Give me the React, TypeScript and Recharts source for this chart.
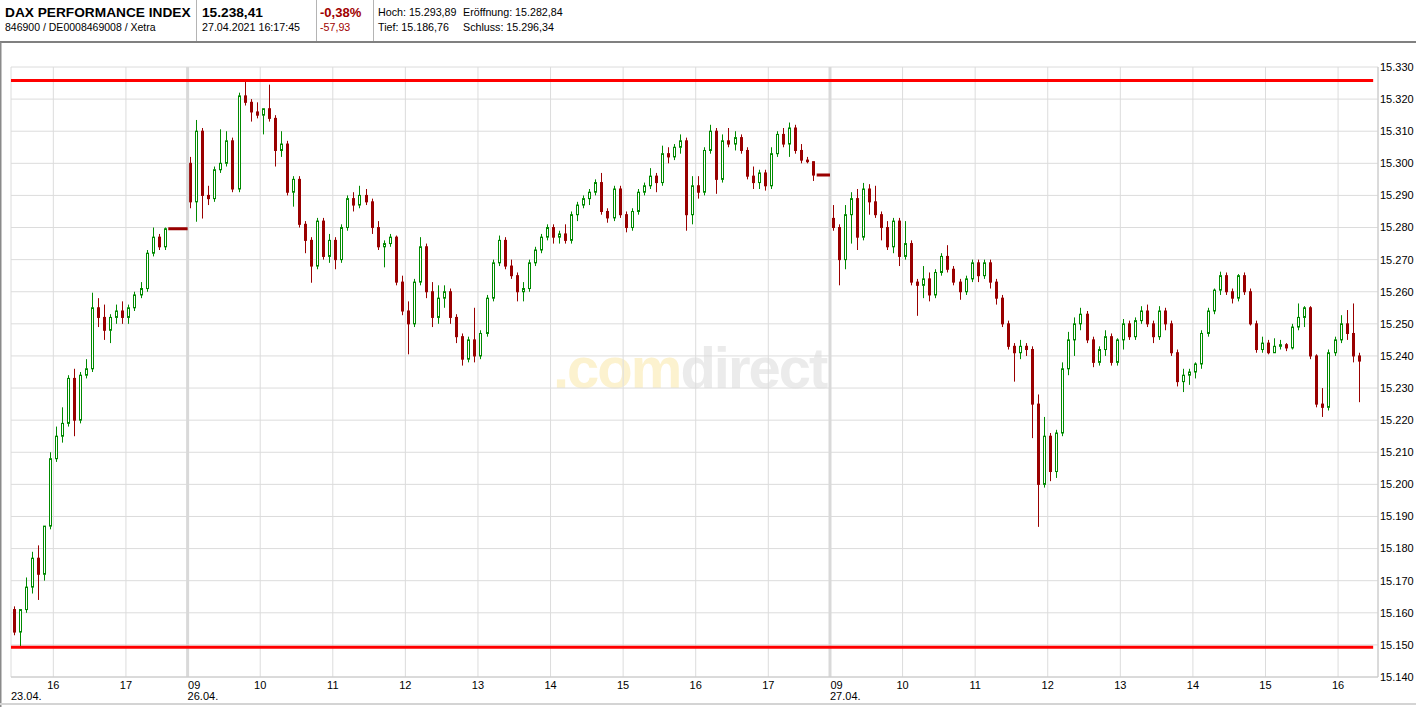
import React from "react";
import { ComposedChart, Bar, Line, XAxis, YAxis, CartesianGrid, ReferenceLine } from "recharts";

// ---------- data (5-minute candles) ----------
const DAY_DATES = ["23.04.", "26.04.", "27.04."];
const DAY_FIRST_CANDLE = ["15:25", "09:00", "09:00"];

const d0Open = [15161, 15154, 15161, 15168, 15177, 15172, 15187, 15208, 15215, 15219, 15233, 15220, 15234, 15236, 15255, 15252, 15248, 15252, 15254, 15252, 15255, 15259, 15261, 15272, 15277, 15274];
const d0High = [15162, 15161, 15171, 15179, 15181, 15183, 15210, 15218, 15224, 15234, 15236, 15235, 15239, 15259.7, 15258, 15256, 15253, 15256, 15257, 15256, 15260, 15263, 15273, 15280, 15278, 15280];
const d0Low = [15153, 15149.3, 15160, 15166, 15164, 15170, 15186, 15207, 15213, 15218, 15215, 15219, 15233, 15235, 15249, 15245, 15244, 15250, 15250, 15250, 15254, 15258, 15260, 15271, 15273, 15273];
const d0Close = [15154, 15161, 15168, 15177, 15172, 15187, 15208, 15215, 15219, 15233, 15220, 15234, 15236, 15255, 15252, 15248, 15252, 15254, 15252, 15255, 15259, 15261, 15272, 15277, 15274, 15279.62];

const d1Open = [
  15300, 15288, 15310, 15290, 15289, 15298, 15300, 15307, 15292, 15321, 15319, 15316,
  15315, 15317, 15314, 15304, 15306, 15291, 15295, 15281, 15276, 15268, 15282, 15271,
  15276, 15270, 15280, 15289, 15287, 15290, 15288, 15280, 15274, 15275, 15277, 15263,
  15254, 15250, 15263, 15274, 15260, 15252, 15258, 15260, 15252, 15246, 15239, 15245,
  15240, 15247, 15258, 15269, 15276, 15268, 15265, 15260, 15261, 15269, 15273, 15277,
  15280, 15277, 15278, 15276, 15284, 15287, 15289, 15291, 15294, 15285, 15283, 15292,
  15284, 15280, 15285, 15291, 15293, 15296, 15294, 15303, 15302, 15305, 15307, 15284,
  15293, 15291, 15304, 15310, 15295, 15307, 15306, 15308, 15304, 15296, 15294, 15297,
  15293, 15303, 15309, 15306, 15311, 15304, 15301, 15300.5,
];
const d1High = [
  15302, 15313.5, 15311, 15293, 15299, 15310.6, 15310, 15308, 15322, 15325.8, 15320, 15319,
  15317, 15324.5, 15315, 15310, 15307, 15296, 15296, 15282, 15277, 15283, 15283, 15278,
  15277, 15281, 15290, 15291, 15293, 15292, 15289, 15282, 15276, 15278, 15277.5, 15265,
  15257, 15264, 15277, 15275, 15263, 15262, 15262, 15261, 15253, 15247, 15246, 15255,
  15248, 15259, 15270, 15277.5, 15277, 15270, 15266, 15263, 15270, 15274, 15278, 15281,
  15281, 15279, 15281, 15285, 15288, 15290, 15292, 15295, 15297, 15286, 15293, 15293,
  15285, 15286, 15292, 15294, 15298.5, 15297, 15305.5, 15305, 15306, 15309, 15308, 15296,
  15296, 15305, 15312, 15311, 15309, 15311, 15310, 15309, 15305, 15299, 15298, 15298,
  15305, 15310, 15311, 15312.7, 15312, 15306, 15302, 15300.5,
];
const d1Low = [
  15286, 15281.8, 15282.8, 15287, 15288, 15297, 15299, 15291, 15291, 15318, 15313, 15314,
  15309, 15313, 15299, 15302, 15290, 15286.5, 15280, 15272, 15262.8, 15267, 15270, 15269,
  15267, 15269, 15279, 15285, 15286, 15287, 15278, 15273, 15267.6, 15274, 15262, 15252.7,
  15240.5, 15249, 15262, 15258, 15249, 15250, 15255, 15250, 15244, 15237, 15238, 15238,
  15239, 15246, 15257, 15268, 15267, 15264, 15257, 15257, 15260, 15268, 15272, 15276,
  15275, 15275, 15275, 15275, 15282, 15286, 15287, 15290, 15284, 15281.5, 15282, 15283,
  15278.5, 15279, 15284, 15290, 15292, 15291, 15293, 15300, 15301, 15303, 15279, 15281,
  15289, 15290, 15303, 15290.5, 15294, 15305, 15304, 15303, 15295, 15292, 15292, 15291.5,
  15292, 15302, 15305, 15302, 15303, 15300, 15300, 15294.5,
];
const d1Close = [
  15288, 15310, 15290, 15289, 15298, 15300, 15307, 15292, 15321, 15319, 15316, 15315,
  15317, 15314, 15304, 15306, 15291, 15295, 15281, 15276, 15268, 15282, 15271, 15276,
  15270, 15280, 15289, 15287, 15290, 15288, 15280, 15274, 15275, 15277, 15263, 15254,
  15250, 15263, 15274, 15260, 15252, 15258, 15260, 15252, 15246, 15239, 15245, 15240,
  15247, 15258, 15269, 15276, 15268, 15265, 15260, 15261, 15269, 15273, 15277, 15280,
  15277, 15278, 15276, 15284, 15287, 15289, 15291, 15294, 15285, 15283, 15292, 15284,
  15280, 15285, 15291, 15293, 15296, 15294, 15303, 15302, 15305, 15307, 15284, 15293,
  15291, 15304, 15310, 15295, 15307, 15306, 15308, 15304, 15296, 15294, 15297, 15293,
  15303, 15309, 15306, 15311, 15304, 15301, 15300.5, 15296.34,
];

const d2Open = [
  15282.84, 15280, 15270, 15284, 15289, 15277, 15292, 15288, 15284, 15280, 15274, 15282,
  15271, 15275, 15263, 15262, 15264, 15259, 15266, 15271, 15267, 15263, 15260, 15264,
  15269, 15265, 15269, 15263, 15258, 15250, 15243, 15241, 15243, 15242, 15225, 15200,
  15215, 15204, 15216, 15236, 15245, 15250, 15253, 15245, 15238, 15242, 15246, 15238,
  15245, 15250, 15246, 15251, 15254, 15250, 15246, 15254, 15250, 15241, 15232, 15234,
  15235, 15237.5, 15247, 15254, 15260.5, 15265, 15260, 15258, 15265, 15260, 15250, 15242,
  15244, 15241, 15243, 15243.5, 15242.5, 15249, 15252, 15255, 15240, 15225, 15224, 15241,
  15245, 15250, 15247, 15240,
];
const d2High = [
  15287, 15281, 15287, 15291, 15292, 15293.89, 15293.5, 15293, 15285, 15282, 15283, 15283,
  15282, 15276, 15264, 15268, 15266, 15267, 15272, 15274.5, 15268, 15264, 15265, 15270,
  15270, 15270, 15270, 15264, 15259, 15251, 15244, 15245, 15244, 15243, 15228, 15221,
  15216, 15217, 15238, 15247.5, 15252, 15255, 15254, 15246, 15243, 15248, 15247, 15245.5,
  15251.5, 15251, 15252, 15255.5, 15256, 15251, 15255.5, 15255, 15251, 15242, 15236, 15236,
  15238, 15248, 15255, 15261, 15266.25, 15266, 15261, 15265.5, 15266, 15261, 15251, 15246,
  15245, 15245.5, 15245, 15244, 15250, 15256.35, 15255.5, 15255.5, 15240.5, 15230, 15242, 15246,
  15252.7, 15254.3, 15256.35, 15241,
];
const d2Low = [
  15279, 15262, 15267, 15275, 15273, 15276, 15284, 15283, 15276, 15273, 15272, 15268,
  15270, 15262, 15252.5, 15258, 15257, 15258, 15265, 15266, 15262, 15257.5, 15259, 15263,
  15263, 15264, 15261, 15256, 15249, 15242, 15232, 15239, 15240, 15214.4, 15186.76, 15199,
  15201, 15202, 15215, 15234, 15240, 15248, 15244, 15236.5, 15237, 15240, 15237, 15237,
  15242, 15245, 15245, 15250, 15249, 15244, 15245, 15248, 15240, 15230.5, 15228.75, 15231,
  15233, 15236, 15246, 15253, 15259, 15259, 15256.35, 15257, 15259, 15249.5, 15241, 15241,
  15240.5, 15241, 15242, 15241.5, 15242, 15248, 15249, 15239, 15224, 15221, 15223, 15240,
  15244, 15245, 15238, 15225.6,
];
const d2Close = [
  15280, 15270, 15284, 15289, 15277, 15292, 15288, 15284, 15280, 15274, 15282, 15271,
  15275, 15263, 15262, 15264, 15259, 15266, 15271, 15267, 15263, 15260, 15264, 15269,
  15265, 15269, 15263, 15258, 15250, 15243, 15241, 15243, 15242, 15225, 15200, 15215,
  15204, 15216, 15236, 15245, 15250, 15253, 15245, 15238, 15242, 15246, 15238, 15245,
  15250, 15246, 15251, 15254, 15250, 15246, 15254, 15250, 15241, 15232, 15234, 15235,
  15237.5, 15247, 15254, 15260.5, 15265, 15260, 15258, 15265, 15260, 15250, 15242, 15244,
  15241, 15243, 15243.5, 15242.5, 15249, 15252, 15255, 15240, 15225, 15224, 15241, 15245,
  15250, 15247, 15240, 15238.41,
];

// after-close flat segments (start time of flat, per day) — days 0 and 1
const FLAT_FROM = ["17:35", "17:40"];

const Y_TICKS = [15140, 15150, 15160, 15170, 15180, 15190, 15200, 15210, 15220, 15230, 15240, 15250, 15260, 15270, 15280, 15290, 15300, 15310, 15320, 15330];
const DAY_TICK_HOURS = [[16, 17], [9, 10, 11, 12, 13, 14, 15, 16, 17], [9, 10, 11, 12, 13, 14, 15, 16]];

// ---------- axis time model ----------
const SESSION_AXIS_MIN = 531; // 09:00 .. 17:51 on the axis
const VIEW_START_MIN = 385; // first day view starts 15:25
const VIEW_END = 1130;
const toMin = (s: string) => {
  const [h, m] = s.split(":").map(Number);
  return (h - 9) * 60 + m;
};
const dayStart = (d: number) => d * SESSION_AXIS_MIN - VIEW_START_MIN;

const DAYS = [
  { o: d0Open, h: d0High, l: d0Low, c: d0Close },
  { o: d1Open, h: d1High, l: d1Low, c: d1Close },
  { o: d2Open, h: d2High, l: d2Low, c: d2Close },
];

type Row = { t: number; o?: number; h?: number; l?: number; c?: number; flat?: number };
const rows: Row[] = [];
DAYS.forEach((d, di) => {
  const first = toMin(DAY_FIRST_CANDLE[di]);
  d.o.forEach((_, i) => {
    rows.push({ t: dayStart(di) + first + i * 5 + 2.5, o: d.o[i], h: d.h[i], l: d.l[i], c: d.c[i] });
  });
  if (di < FLAT_FROM.length) {
    const last = d.c[d.c.length - 1];
    rows.push({ t: dayStart(di) + toMin(FLAT_FROM[di]), flat: last });
    rows.push({ t: dayStart(di + 1), flat: last });
  }
});

const allHigh = Math.max(...DAYS.flatMap((d) => d.h));
const allLow = Math.min(...DAYS.flatMap((d) => d.l));

type XT = { t: number; hour?: string; date?: string; start?: boolean };
const xTicks: XT[] = [{ t: 0, date: DAY_DATES[0], start: true }];
DAY_TICK_HOURS.forEach((hours, di) => {
  hours.forEach((h) => {
    const isStart = h === 9;
    xTicks.push({
      t: dayStart(di) + (h - 9) * 60,
      hour: String(h).padStart(2, "0"),
      date: isStart ? DAY_DATES[di] : undefined,
      start: isStart,
    });
  });
});
const xTickMap = new Map(xTicks.map((x) => [x.t, x]));
const separators = [dayStart(1), dayStart(2)];

// ---------- styling ----------
const FONT = "'Liberation Sans', Arial, Helvetica, sans-serif";
const UP = "#008a00";
const DOWN = "#990000";
const fmt = (v: number) => `${Math.floor(v / 1000)}.${String(Math.round(v % 1000)).padStart(3, "0")}`;

function Candle(props: any) {
  const { x, y, width, height, payload } = props;
  if (!payload || payload.h == null || !isFinite(y) || !isFinite(height)) return null;
  const { o, h, l, c } = payload;
  const y0 = Math.min(y, y + height);
  const y1 = Math.max(y, y + height);
  const span = h - l;
  const py = (v: number) => (span > 0 ? y0 + ((h - v) / span) * (y1 - y0) : y0);
  const up = c >= o;
  const col = up ? UP : DOWN;
  const left = Math.round(x) + 0.5;
  const w = Math.max(1, Math.round(width) - 1);
  const cx = left + Math.floor(w / 2);
  let bt = py(Math.max(o, c));
  let bb = py(Math.min(o, c));
  if (bb - bt < 1) bb = bt + 1;
  return (
    <g>
      <line x1={cx} x2={cx} y1={y0} y2={y1} stroke={col} strokeWidth={1} />
      <rect x={left} y={bt} width={w} height={bb - bt} fill={up ? "#ffffff" : col} stroke={col} strokeWidth={1} />
    </g>
  );
}

function XTick(props: any) {
  const { x, y, payload } = props;
  const info = xTickMap.get(payload.value);
  if (!info) return null;
  return (
    <g>
      {info.hour && (
        <text x={info.start ? x + 0.5 : x} y={y + 12} textAnchor={info.start ? "start" : "middle"} fontSize={11} fill="#000" fontFamily={FONT}>
          {info.hour}
        </text>
      )}
      {info.date && (
        <text x={x} y={y + 23} textAnchor="start" fontSize={11} fill="#000" fontFamily={FONT}>
          {info.date}
        </text>
      )}
    </g>
  );
}

function Header() {
  const t = { fontFamily: FONT, fill: "#000" } as const;
  const big = 13.7;
  const small = 10.7;
  return (
    <svg width={1416} height={44} style={{ position: "absolute", left: 0, top: 0 }}>
      <text x={5} y={16.5} fontSize={big} fontWeight="bold" {...t}>DAX PERFORMANCE INDEX</text>
      <text x={5} y={30.5} fontSize={10.5} {...t}>846900 / DE0008469008 / Xetra</text>
      <line x1={196.5} x2={196.5} y1={0} y2={41} stroke="#b4b4b4" />
      <text x={202} y={16.5} fontSize={big} fontWeight="bold" {...t}>15.238,41</text>
      <text x={202} y={30.5} fontSize={small} {...t}>27.04.2021 16:17:45</text>
      <line x1={316.5} x2={316.5} y1={0} y2={41} stroke="#b4b4b4" />
      <text x={320} y={16.5} fontSize={13} fontWeight="bold" fontFamily={FONT} fill="#a00000">-0,38%</text>
      <text x={320} y={30.5} fontSize={small} fontFamily={FONT} fill="#a00000">-57,93</text>
      <line x1={373.5} x2={373.5} y1={0} y2={41} stroke="#b4b4b4" />
      <text x={378} y={16} fontSize={small} {...t}>Hoch: 15.293,89</text>
      <text x={463} y={16} fontSize={small} {...t}>Eröffnung: 15.282,84</text>
      <text x={378} y={30.5} fontSize={small} {...t}>Tief: 15.186,76</text>
      <text x={463} y={30.5} fontSize={small} {...t}>Schluss: 15.296,34</text>
      <rect x={0} y={41} width={1416} height={2} fill="#808080" />
    </svg>
  );
}

function Frame() {
  return (
    <svg width={1416} height={707} style={{ position: "absolute", left: 0, top: 0, pointerEvents: "none" }}>
      <rect x={0} y={42} width={1.5} height={665} fill="#8a8a8a" />
      <rect x={0} y={703} width={1416} height={2} fill="#d4d4d4" />
    </svg>
  );
}

function Watermark() {
  return (
    <div
      style={{
        position: "absolute",
        left: 553,
        top: 333,
        fontFamily: FONT,
        fontWeight: "bold",
        fontSize: 58,
        letterSpacing: -2,
        lineHeight: "70px",
        whiteSpace: "nowrap",
      }}
    >
      <span style={{ color: "#fcf2cf" }}>.com</span>
      <span style={{ color: "#ebebeb" }}>direct</span>
    </div>
  );
}

export default function App() {
  return (
    <div style={{ position: "absolute", left: 0, top: 0, width: 1416, height: 707, background: "#fff", overflow: "hidden", fontFamily: FONT }}>
      <Watermark />
      <div style={{ position: "absolute", left: 0, top: 0 }}>
        <ComposedChart width={1416} height={707} data={rows} margin={{ top: 67, right: 0, bottom: 0, left: 11 }}>
          <CartesianGrid stroke="#dcdcdc" />
          <XAxis
            type="number"
            dataKey="t"
            domain={[0, VIEW_END]}
            ticks={xTicks.map((x) => x.t)}
            interval={0}
            tick={<XTick />}
            tickLine={false}
            tickSize={0}
            tickMargin={0}
            axisLine={{ stroke: "#c8c8c8" }}
            height={30}
            allowDataOverflow
          />
          <YAxis
            orientation="right"
            domain={[15140, 15330]}
            ticks={Y_TICKS}
            interval={0}
            tickFormatter={fmt}
            width={38}
            tickLine={false}
            tickSize={0}
            tickMargin={2}
            axisLine={{ stroke: "#c8c8c8" }}
            tick={{ fill: "#000", fontSize: 11, fontFamily: FONT }}
            allowDataOverflow
          />
          {separators.map((s) => (
            <ReferenceLine key={s} x={s} stroke="#d9d9d9" strokeWidth={3} />
          ))}
          <Bar
            dataKey={(r: Row) => (r.h != null ? [r.l, r.h] : null)}
            barSize={5}
            shape={(p: any) => <Candle {...p} />}
            isAnimationActive={false}
          />
          <Line dataKey="flat" stroke={DOWN} strokeWidth={3} dot={false} activeDot={false} isAnimationActive={false} connectNulls={false} />
          <ReferenceLine segment={[{ x: 0, y: allHigh }, { x: 1126, y: allHigh }]} stroke="#ff0000" strokeWidth={3} />
          <ReferenceLine segment={[{ x: 0, y: allLow }, { x: 1126, y: allLow }]} stroke="#ff0000" strokeWidth={3} />
        </ComposedChart>
      </div>
      <Header />
      <Frame />
    </div>
  );
}
